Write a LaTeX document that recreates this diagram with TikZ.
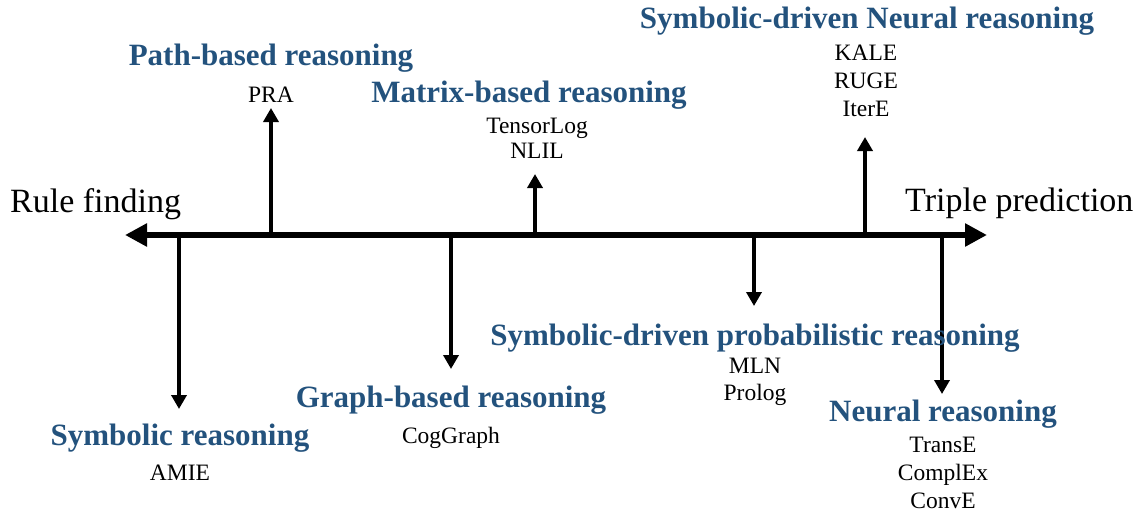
\documentclass[tikz,border=0pt]{standalone}
\usepackage{fontspec}
\setmainfont{Liberation Serif}
\usetikzlibrary{arrows.meta}
\definecolor{headblue}{RGB}{35,82,125}
\begin{document}
\begin{tikzpicture}[x=1pt,y=-1pt,
  axisline/.style={line width=6pt,{Triangle[length=22pt,width=22pt]}-{Triangle[length=22pt,width=22pt]}},
  branch/.style={line width=3.5pt,-{Triangle[length=14pt,width=15pt]}},
  heading/.style={anchor=base,text=headblue,font=\fontsize{31}{33}\selectfont\bfseries,inner sep=0pt},
  method/.style={anchor=base,font=\fontsize{23.5}{25}\selectfont,inner sep=0pt},
  endlabel/.style={anchor=base west,font=\fontsize{34}{36}\selectfont,inner sep=0pt}]
\useasboundingbox (0,0) rectangle (1138,512);

% main axis
\coordinate (axL) at (125,235);
\coordinate (axR) at (987,235);
\draw[axisline] (axL) -- (axR);

\node[endlabel] (rule) at (10,212) {Rule finding};
\node[endlabel] (triple) at (905,211) {Triple prediction};

% branch anchors on the axis and free ends
\coordinate (b1) at (179,237);  \coordinate (e1) at (179,409);
\coordinate (b2) at (271,233);  \coordinate (e2) at (271,108);
\coordinate (b3) at (451,237);  \coordinate (e3) at (451,369);
\coordinate (b4) at (535,233);  \coordinate (e4) at (535,174);
\coordinate (b5) at (754,237);  \coordinate (e5) at (754,306);
\coordinate (b6) at (865,233);  \coordinate (e6) at (865,137);
\coordinate (b7) at (942,237);  \coordinate (e7) at (942,394);
\foreach \i in {1,...,7} \draw[branch] (b\i) -- (e\i);

% symbolic reasoning
\node[heading] (symb) at (180,445) {Symbolic reasoning};
\node[method] (amie) at (180,480) {AMIE};

% path-based
\node[heading] (path) at (271,65) {Path-based reasoning};
\node[method] (pra) at (271,102) {PRA};

% graph-based
\node[heading] (graph) at (451,407) {Graph-based reasoning};
\node[method] (cog) at (451,443) {CogGraph};

% matrix-based
\node[heading] (matrix) at (529,102) {Matrix-based reasoning};
\node[method] (tlog) at (537,133) {TensorLog};
\node[method] (nlil) at (537,158) {NLIL};

% symbolic-driven probabilistic
\node[heading] (prob) at (755,345) {Symbolic-driven probabilistic reasoning};
\node[method] (mln) at (755,373) {MLN};
\node[method] (prolog) at (755,400) {Prolog};

% symbolic-driven neural
\node[heading] (sdn) at (867,28) {Symbolic-driven Neural reasoning};
\node[method] (kale) at (866,60) {KALE};
\node[method] (ruge) at (866,88) {RUGE};
\node[method] (itere) at (866,116) {IterE};

% neural
\node[heading] (neural) at (943,421) {Neural reasoning};
\node[method] (transe) at (943,452) {TransE};
\node[method] (complex) at (943,480) {ComplEx};
\node[method] (conve) at (943,508) {ConvE};
\end{tikzpicture}
\end{document}
